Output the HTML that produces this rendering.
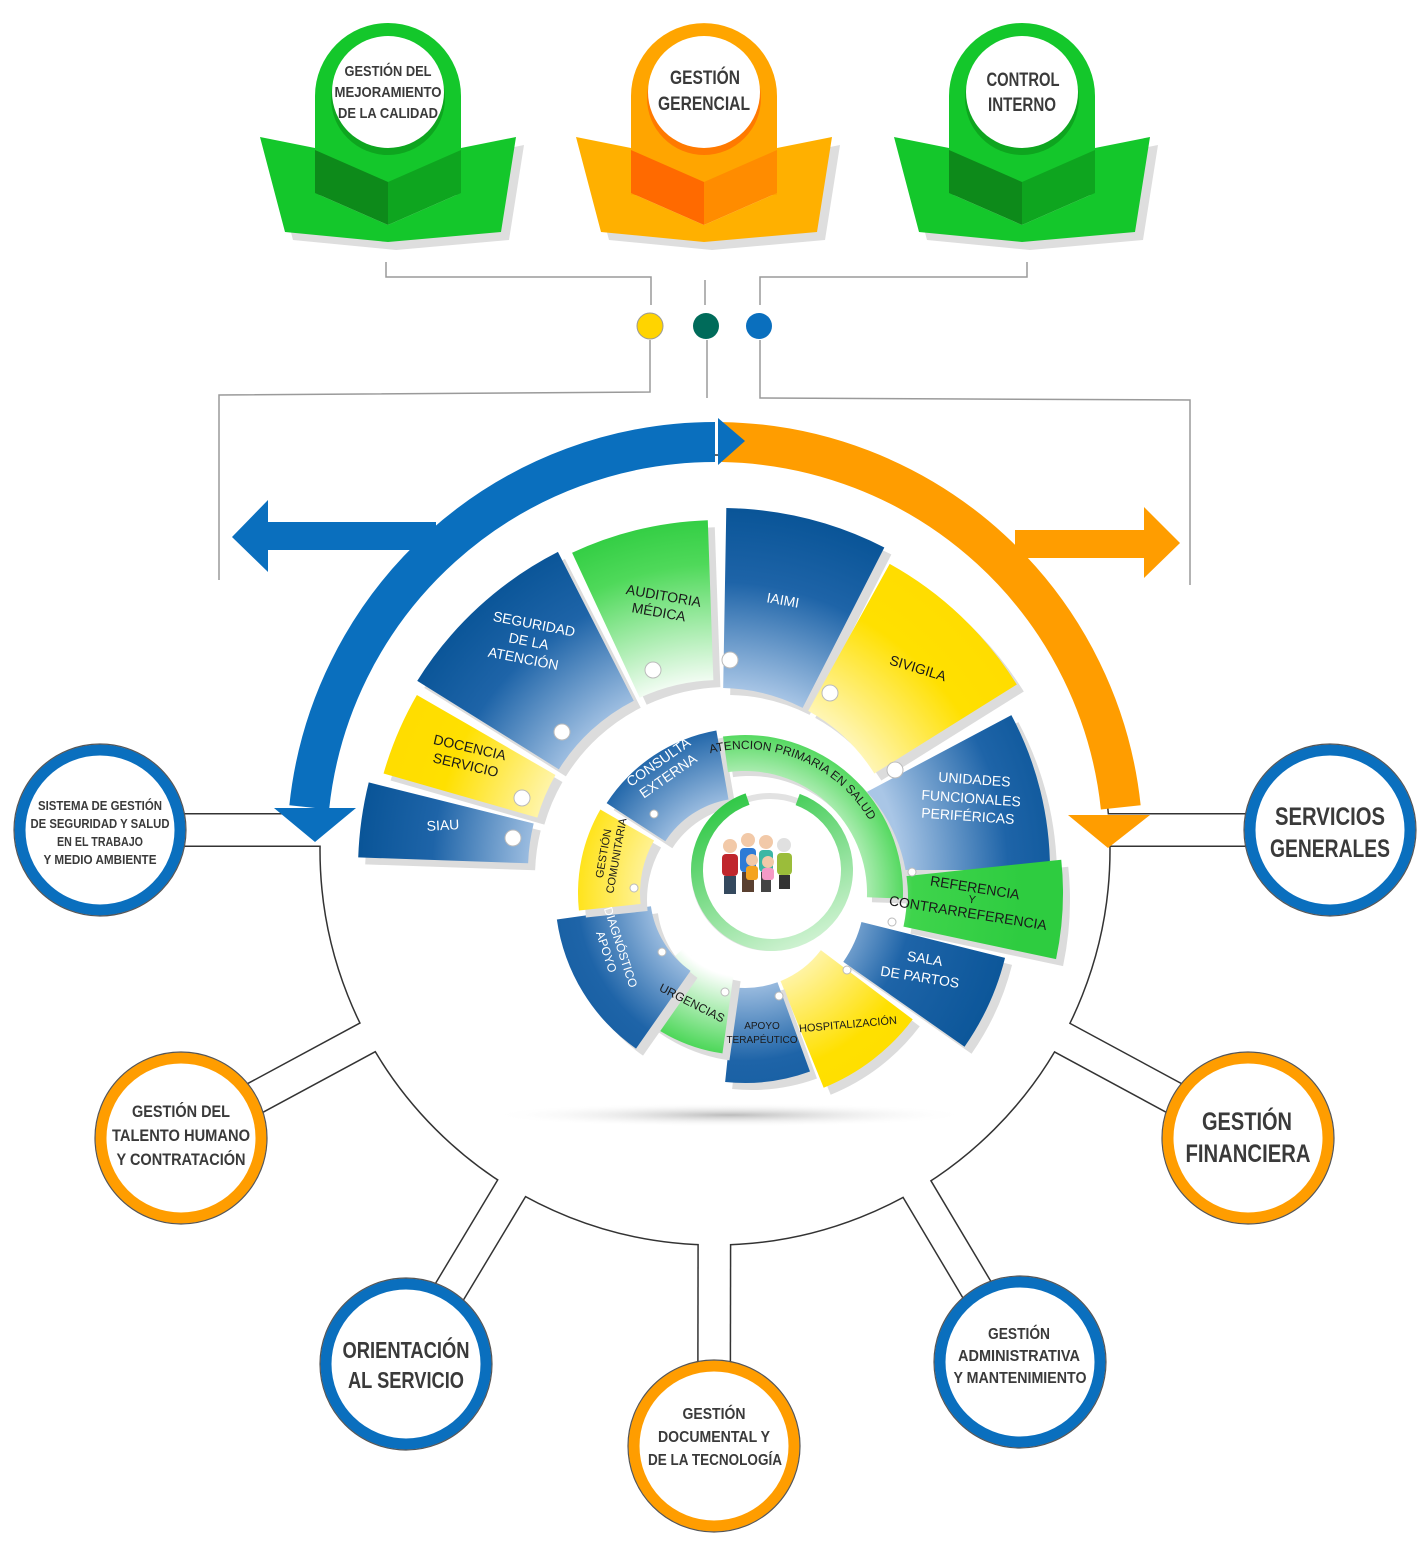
<!DOCTYPE html>
<html><head><meta charset="utf-8"><style>
html,body{margin:0;padding:0;background:#fff;}
svg{display:block}
.n{font-family:"Liberation Sans",sans-serif;font-weight:bold;fill:#3a3a3a;text-anchor:middle}
.s{font-family:"Liberation Sans",sans-serif;text-anchor:middle;font-size:13px}
.w{fill:#fff}.d{fill:#1a1a1a}
</style></head><body>
<svg id="sv" width="1428" height="1552" viewBox="0 0 1428 1552" xmlns="http://www.w3.org/2000/svg">
<defs>
<radialGradient id="bO" cx="720" cy="870" r="360" gradientUnits="userSpaceOnUse"><stop offset="0.5" stop-color="#a9c6e6"/><stop offset="0.8" stop-color="#1e64a8"/><stop offset="1" stop-color="#0a5598"/></radialGradient>
<radialGradient id="yO" cx="720" cy="870" r="360" gradientUnits="userSpaceOnUse"><stop offset="0.5" stop-color="#fff6b8"/><stop offset="0.8" stop-color="#ffe000"/><stop offset="1" stop-color="#ffdc00"/></radialGradient>
<radialGradient id="gO" cx="720" cy="870" r="360" gradientUnits="userSpaceOnUse"><stop offset="0.5" stop-color="#ffffff"/><stop offset="0.85" stop-color="#4fd95a"/><stop offset="1" stop-color="#2ecc40"/></radialGradient>
<radialGradient id="bI" cx="745" cy="893" r="280" gradientUnits="userSpaceOnUse"><stop offset="0.3" stop-color="#a9c6e6"/><stop offset="0.6" stop-color="#1e64a8"/><stop offset="1" stop-color="#0a5598"/></radialGradient>
<radialGradient id="yI" cx="745" cy="893" r="280" gradientUnits="userSpaceOnUse"><stop offset="0.3" stop-color="#fff6b8"/><stop offset="0.65" stop-color="#ffe000"/><stop offset="1" stop-color="#ffdc00"/></radialGradient>
<radialGradient id="gI" cx="745" cy="893" r="280" gradientUnits="userSpaceOnUse"><stop offset="0.3" stop-color="#ffffff"/><stop offset="0.6" stop-color="#3fd44c"/><stop offset="1" stop-color="#2ecc40"/></radialGradient>
<linearGradient id="ring" x1="0" y1="1" x2="1" y2="0"><stop offset="0" stop-color="#e6f8e6"/><stop offset="1" stop-color="#19c232"/></linearGradient>
<radialGradient id="sh" cx="0.5" cy="0.5" r="0.5"><stop offset="0" stop-color="#bbb"/><stop offset="1" stop-color="#fff" stop-opacity="0"/></radialGradient>
<path id="apPath" d=""/>
</defs>
<g id="base"></g>
<g id="sect"></g>
<g id="books"></g>

<g fill="none" stroke="#9a9a9a" stroke-width="1.5">
<polyline points="386,262 386,277 651,277 651,305"/>
<polyline points="705,280 705,305"/>
<polyline points="1027,262 1027,277 760,277 760,305"/>
<polyline points="650,340 650,392 219,395 219,580"/>
<polyline points="707,340 707,398"/>
<polyline points="760,340 760,398 1190,400 1190,585"/>
</g>
<circle cx="650" cy="326" r="13" fill="#ffd400" stroke="#999" stroke-width="1"/>
<circle cx="706" cy="326" r="13" fill="#006b5a"/>
<circle cx="759" cy="326" r="13" fill="#0a6fbe"/>

<ellipse cx="730" cy="1115" rx="240" ry="12" fill="url(#sh)"/>

<g class="s">
<text x="443" y="830" class="w" transform="rotate(-3 443 826)" font-size="14">SIAU</text>
<g transform="rotate(13 468 755)" class="d" font-size="14"><text x="468" y="752">DOCENCIA</text><text x="468" y="770">SERVICIO</text></g>
<g transform="rotate(11 528 645)" class="w" font-size="14"><text x="530" y="628">SEGURIDAD</text><text x="528" y="646">DE LA</text><text x="526" y="664">ATENCIÓN</text></g>
<g transform="rotate(10 660 605)" class="d" font-size="14"><text x="662" y="600">AUDITORIA</text><text x="660" y="617">MÉDICA</text></g>
<text x="783" y="605" class="w" transform="rotate(10 783 600)" font-size="14">IAIMI</text>
<text x="918" y="673" class="d" transform="rotate(17 918 668)" font-size="14">SIVIGILA</text>
<g transform="rotate(4 971 800)" class="w" font-size="14"><text x="973" y="784">UNIDADES</text><text x="971" y="803">FUNCIONALES</text><text x="969" y="821">PERIFÉRICAS</text></g>
<g transform="rotate(9 971 900)" class="d" font-size="14"><text x="973" y="892">REFERENCIA</text><text x="972" y="903" font-size="11">Y</text><text x="970" y="918">CONTRARREFERENCIA</text></g>
<g transform="rotate(9 922 970)" class="w" font-size="14"><text x="923" y="963">SALA</text><text x="921" y="982">DE PARTOS</text></g>
<text x="848" y="1028" class="d" transform="rotate(-5 848 1025)" font-size="11">HOSPITALIZACIÓN</text>
<g class="d" font-size="10"><text x="762" y="1029">APOYO</text><text x="762" y="1043">TERAPÉUTICO</text></g>
<text x="692" y="1007" class="d" transform="rotate(27 692 1003)" font-size="12">URGENCIAS</text>
<g transform="rotate(72 612 950)" class="w" font-size="12"><text x="612" y="945">DIAGNÓSTICO</text><text x="612" y="960">APOYO</text></g>
<g transform="rotate(-80 612 855)" class="d" font-size="11"><text x="612" y="850">GESTIÓN</text><text x="612" y="863">COMUNITARIA</text></g>
<g transform="rotate(-35 664 770)" class="w" font-size="14"><text x="664" y="765">CONSULTA</text><text x="664" y="782">EXTERNA</text></g>
<text class="d" font-size="12" style="text-anchor:start"><textPath href="#apPath">ATENCION PRIMARIA EN SALUD</textPath></text>
</g>

<g id="fam">
<circle cx="770" cy="872" r="76" fill="none" stroke="#e2e2e2" stroke-width="6"/>
<circle cx="772" cy="870" r="75" fill="none" stroke="url(#ring)" stroke-width="12" stroke-dasharray="420 60" transform="rotate(-70 772 870)"/>
<circle cx="730" cy="846" r="7" fill="#f2c9a8"/><rect x="722" y="854" width="16" height="22" rx="4" fill="#c0262c"/><rect x="724" y="876" width="12" height="18" fill="#34495e"/>
<circle cx="748" cy="840" r="7" fill="#f2c9a8"/><rect x="740" y="848" width="16" height="24" rx="4" fill="#2e7bd6"/><rect x="742" y="872" width="12" height="20" fill="#5a4030"/>
<circle cx="766" cy="842" r="7" fill="#f2c9a8"/><rect x="759" y="850" width="14" height="22" rx="4" fill="#3cb7a4"/><rect x="761" y="872" width="10" height="20" fill="#444"/>
<circle cx="784" cy="845" r="7" fill="#e0e0e0"/><rect x="777" y="853" width="15" height="22" rx="4" fill="#9bbd3a"/><rect x="779" y="875" width="11" height="14" fill="#333"/>
<circle cx="752" cy="860" r="6" fill="#f2c9a8"/><rect x="746" y="866" width="12" height="14" rx="3" fill="#f4a320"/>
<circle cx="768" cy="862" r="6" fill="#f2c9a8"/><rect x="762" y="868" width="12" height="12" rx="3" fill="#f59ac6"/>
</g>

<g id="circ"></g>
<g class="n" lengthAdjust="spacingAndGlyphs">
<g font-size="13"><text x="100" y="810" textLength="124" lengthAdjust="spacingAndGlyphs">SISTEMA DE GESTIÓN</text><text x="100" y="828" textLength="139" lengthAdjust="spacingAndGlyphs">DE SEGURIDAD Y SALUD</text><text x="100" y="846" textLength="86" lengthAdjust="spacingAndGlyphs">EN EL TRABAJO</text><text x="100" y="864" textLength="113" lengthAdjust="spacingAndGlyphs">Y MEDIO AMBIENTE</text></g>
<g font-size="25"><text x="1330" y="825" textLength="110" lengthAdjust="spacingAndGlyphs">SERVICIOS</text><text x="1330" y="857" textLength="120" lengthAdjust="spacingAndGlyphs">GENERALES</text></g>
<g font-size="17"><text x="181" y="1117" textLength="98" lengthAdjust="spacingAndGlyphs">GESTIÓN DEL</text><text x="181" y="1141" textLength="138" lengthAdjust="spacingAndGlyphs">TALENTO HUMANO</text><text x="181" y="1165" textLength="129" lengthAdjust="spacingAndGlyphs">Y CONTRATACIÓN</text></g>
<g font-size="25"><text x="1247" y="1130" textLength="90" lengthAdjust="spacingAndGlyphs">GESTIÓN</text><text x="1248" y="1162" textLength="125" lengthAdjust="spacingAndGlyphs">FINANCIERA</text></g>
<g font-size="23"><text x="406" y="1358" textLength="127" lengthAdjust="spacingAndGlyphs">ORIENTACIÓN</text><text x="406" y="1388" textLength="116" lengthAdjust="spacingAndGlyphs">AL SERVICIO</text></g>
<g font-size="16"><text x="714" y="1419" textLength="63" lengthAdjust="spacingAndGlyphs">GESTIÓN</text><text x="714" y="1442" textLength="112" lengthAdjust="spacingAndGlyphs">DOCUMENTAL Y</text><text x="715" y="1465" textLength="134" lengthAdjust="spacingAndGlyphs">DE LA TECNOLOGÍA</text></g>
<g font-size="16"><text x="1019" y="1339" textLength="62" lengthAdjust="spacingAndGlyphs">GESTIÓN</text><text x="1019" y="1361" textLength="122" lengthAdjust="spacingAndGlyphs">ADMINISTRATIVA</text><text x="1020" y="1383" textLength="133" lengthAdjust="spacingAndGlyphs">Y MANTENIMIENTO</text></g>
<g font-size="15"><text x="388" y="76" textLength="87" lengthAdjust="spacingAndGlyphs">GESTIÓN DEL</text><text x="388" y="97" textLength="107" lengthAdjust="spacingAndGlyphs">MEJORAMIENTO</text><text x="388" y="118" textLength="100" lengthAdjust="spacingAndGlyphs">DE LA CALIDAD</text></g>
<g font-size="19"><text x="705" y="84" textLength="70" lengthAdjust="spacingAndGlyphs">GESTIÓN</text><text x="704" y="110" textLength="92" lengthAdjust="spacingAndGlyphs">GERENCIAL</text></g>
<g font-size="19"><text x="1023" y="86" textLength="73" lengthAdjust="spacingAndGlyphs">CONTROL</text><text x="1022" y="111" textLength="68" lengthAdjust="spacingAndGlyphs">INTERNO</text></g>
</g>
</svg>
<script>
(function(){
var NS="http://www.w3.org/2000/svg";
function el(p,t,a){var e=document.createElementNS(NS,t);for(var k in a)e.setAttribute(k,a[k]);p.appendChild(e);return e;}
function pt(cx,cy,r,a){a=a*Math.PI/180;return [cx+r*Math.sin(a),cy-r*Math.cos(a)];}
function sec(cx,cy,r1,r2,a1,a2){var d=a2-a1;if(d<0)d+=360;var l=d>180?1:0;var a=pt(cx,cy,r2,a1),b=pt(cx,cy,r2,a1+d),c=pt(cx,cy,r1,a1+d),e=pt(cx,cy,r1,a1);
return "M"+a+" A"+r2+" "+r2+" 0 "+l+" 1 "+b+" L"+c+" A"+r1+" "+r1+" 0 "+l+" 0 "+e+"Z";}
function arc(cx,cy,r,a1,a2,sw){var d=a2-a1;var l=Math.abs(d)>180?1:0;var a=pt(cx,cy,r,a1),b=pt(cx,cy,r,a2);return "M"+a+" A"+r+" "+r+" 0 "+l+" "+(sw)+" "+b;}
var base=document.getElementById("base"),S=document.getElementById("sect"),B=document.getElementById("books"),C=document.getElementById("circ");
var BX=715,BY=850,BR=395;
el(base,"circle",{cx:BX,cy:BY,r:BR,fill:"none",stroke:"#333","stroke-width":1.5});
var cs=[[100,830,"#0a6fbe"],[1330,830,"#0a6fbe"],[181,1138,"#ff9d00"],[1248,1138,"#ff9d00"],[406,1364,"#0a6fbe"],[714,1446,"#ff9d00"],[1020,1362,"#0a6fbe"]];
cs.forEach(function(c){var dx=c[0]-BX,dy=c[1]-BY,L=Math.sqrt(dx*dx+dy*dy);var px=BX+BR*dx/L,py=BY+BR*dy/L;
if(c[1]==830){py=830;px=c[0]<BX?320:1108;}
el(base,"line",{x1:c[0],y1:c[1],x2:px,y2:py,stroke:"#333","stroke-width":34});
el(base,"line",{x1:c[0],y1:c[1],x2:px+(px-c[0])*0.01,y2:py+(py-c[1])*0.01,stroke:"#fff","stroke-width":31});});
el(base,"path",{d:arc(715,850,408,0,-84,0),fill:"none",stroke:"#0a6fbe","stroke-width":40});
el(base,"path",{d:arc(715,850,408,1,84,1),fill:"none",stroke:"#ff9d00","stroke-width":40});
el(base,"polygon",{points:"718,418 745,441 718,465",fill:"#0a6fbe"});
el(base,"polygon",{points:"274,808 356,808 315,842",fill:"#0a6fbe"});
el(base,"polygon",{points:"1068,815 1150,815 1108,848",fill:"#ff9d00"});
el(base,"rect",{x:266,y:522,width:170,height:28,fill:"#0a6fbe"});
el(base,"polygon",{points:"268,500 232,537 268,572",fill:"#0a6fbe"});
el(base,"rect",{x:1015,y:530,width:132,height:28,fill:"#ff9d00"});
el(base,"polygon",{points:"1144,507 1180,543 1144,578",fill:"#ff9d00"});
var O=[720,870],I=[745,893];
var L=[
[O,192,362,272,284,"bO",[513,838]],[O,190,350,286,300,"yO",[522,798]],[O,190,357,302,333,"bO",[562,732]],[O,190,350,335,358,"gO",[653,670]],
[O,182,362,1,27,"bO",[730,660]],[O,182,350,29,58,"yO",[830,693]],[O,165,330,62,90,"bO",[895,770]],
[I,162,318,84,102,"gI",[912,872]],[I,120,268,104,125,"bI",[892,922]],[I,95,210,127,158,"yI",[847,970]],
[I,95,190,160,186,"bI",[779,996]],[I,82,162,188,228,"gI",[725,992]],[I,95,190,215,262,"bI",[662,952]],[I,105,167,264,300,"yI",[634,888]],[I,95,165,303,350,"bI",[654,814]]];
L.forEach(function(s){var d=sec(s[0][0],s[0][1],s[1],s[2],s[3],s[4]);
el(S,"path",{d:d,fill:"#dcdcdc",transform:"translate(7,7)"});
el(S,"path",{d:d,fill:"url(#"+s[5]+")"});
var r=s[0]===O?8:4;el(S,"circle",{cx:s[6][0],cy:s[6][1],r:r,fill:"#fff",stroke:"#bbb","stroke-width":1});});
el(S,"path",{d:sec(745,893,122,158,352,92),fill:"#dcdcdc",transform:"translate(5,5)"});
el(S,"path",{d:sec(745,893,122,158,352,92),fill:"url(#gI)"});
document.getElementById("apPath").setAttribute("d",arc(745,893,144,-14,95,1));
function book(cx,col,tag,dl,dr,sh){var g=el(B,"g",{});var x0=cx-128,x1=cx+128;
var pts=[[x0,137],[cx-73,148],[cx-73,193],[cx,225],[cx+73,193],[cx+73,148],[x1,137],[x1-15,232],[cx,242],[x0+25,232]];
var ps=pts.map(function(p){return p.join(",")}).join(" ");
el(g,"polygon",{points:ps,fill:"#dedede",transform:"translate(8,8)"});
el(g,"polygon",{points:ps,fill:col});
el(g,"path",{d:"M"+(cx-73)+",195 L"+(cx-73)+",96 A73,73 0 0 1 "+(cx+73)+",96 L"+(cx+73)+",195Z",fill:tag});
el(g,"polygon",{points:(cx-73)+",150 "+cx+",182 "+cx+",225 "+(cx-73)+",193",fill:dl});
el(g,"polygon",{points:cx+",182 "+(cx+73)+",150 "+(cx+73)+",193 "+cx+",225",fill:dr});
el(g,"circle",{cx:cx,cy:98,r:57,fill:sh});
el(g,"circle",{cx:cx,cy:92,r:56,fill:"#fff"});}
book(388,"#14c72b","#14c72b","#0d8a1a","#0ea51f","#0ea51f");
book(704,"#ffb000","#ffa500","#ff6a00","#ff8c00","#ff7a00");
book(1022,"#14c72b","#14c72b","#0d8a1a","#0ea51f","#0ea51f");
cs.forEach(function(c){el(C,"circle",{cx:c[0],cy:c[1],r:80,fill:"#fff",stroke:c[2],"stroke-width":11});
el(C,"circle",{cx:c[0],cy:c[1],r:86,fill:"none",stroke:"#555","stroke-width":1.2});});
})();
</script>
</body></html>
